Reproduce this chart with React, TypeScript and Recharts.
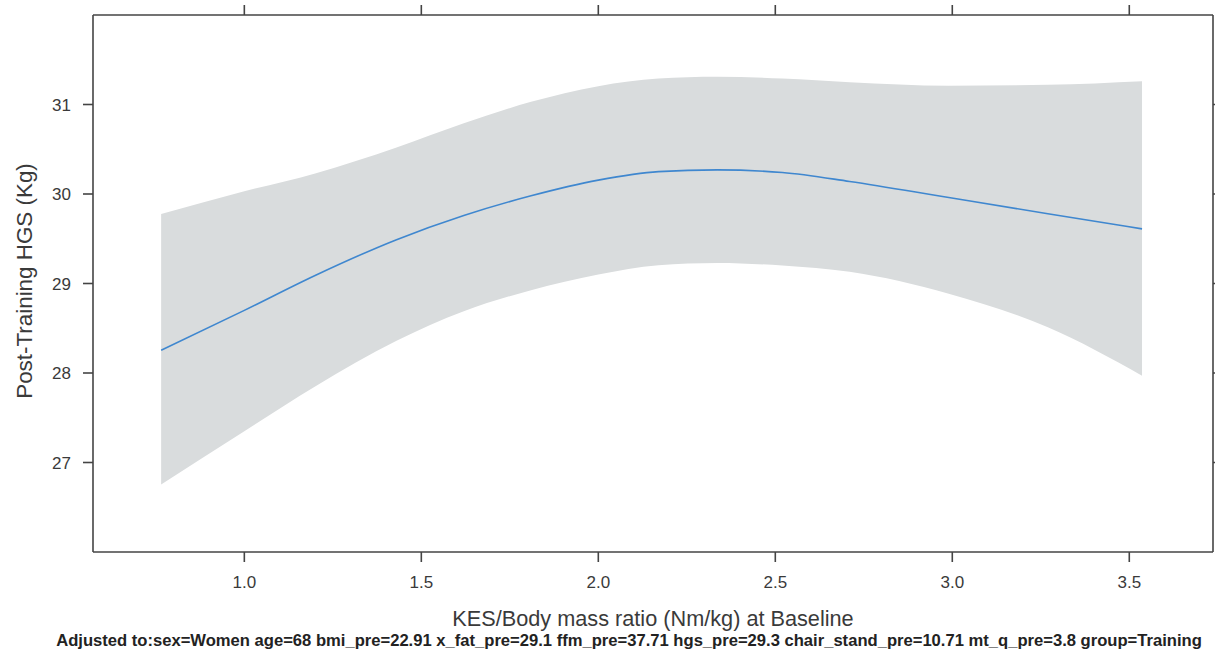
import React from 'react';
import { ComposedChart, Area, Line, XAxis, YAxis } from 'recharts';

const xValues = [0.765, 1.0, 1.2, 1.43, 1.62, 1.81, 2.0, 2.17, 2.336, 2.52, 2.71, 2.99, 3.27, 3.536];
const fitValues = [28.255, 28.7, 29.09, 29.49, 29.76, 29.98, 30.155, 30.25, 30.27, 30.24, 30.14, 29.96, 29.78, 29.61];
const upperValues = [29.777, 30.03, 30.23, 30.52, 30.79, 31.03, 31.205, 31.29, 31.31, 31.29, 31.25, 31.21, 31.22, 31.26];
const lowerValues = [26.755, 27.35, 27.85, 28.36, 28.69, 28.925, 29.1, 29.205, 29.23, 29.2, 29.13, 28.885, 28.51, 27.97];

const xTicks = [1.0, 1.5, 2.0, 2.5, 3.0, 3.5];
const yTicks = [27, 28, 29, 30, 31];
const xDomain = [0.5725, 3.7365];
const yDomain = [26, 32];

const xTitle = 'KES/Body mass ratio (Nm/kg) at Baseline';
const yTitle = 'Post-Training HGS (Kg)';
const footnote =
  'Adjusted to:sex=Women age=68 bmi_pre=22.91 x_fat_pre=29.1 ffm_pre=37.71 hgs_pre=29.3 chair_stand_pre=10.71 mt_q_pre=3.8 group=Training';

const data = xValues.map((x, i) => ({
  x,
  fit: fitValues[i],
  band: [lowerValues[i], upperValues[i]],
}));

const FONT = '"Liberation Sans", Arial, sans-serif';
const AXIS_COLOR = '#444';
const TEXT_COLOR = '#3a3a3a';

export default function App() {
  return (
    <div style={{ position: 'absolute', left: 0, top: 0, width: 1215, height: 651, background: '#fff' }}>
      <ComposedChart
        width={1215}
        height={651}
        data={data}
        margin={{ top: 0, right: 0, bottom: 0, left: 0 }}
        style={{ fontFamily: FONT }}
      >
        <XAxis
          xAxisId="bottom"
          dataKey="x"
          type="number"
          domain={xDomain}
          ticks={xTicks}
          allowDataOverflow
          orientation="bottom"
          height={99}
          tickSize={10}
          tickMargin={14}
          tickFormatter={(v: number) => v.toFixed(1)}
          tick={{ fill: TEXT_COLOR, fontSize: 17, fontFamily: FONT }}
          axisLine={{ stroke: AXIS_COLOR, strokeWidth: 1.6 }}
          tickLine={{ stroke: AXIS_COLOR, strokeWidth: 1.6 }}
          label={(props: any) => {
            const vb = props.viewBox || {};
            return (
              <text
                x={vb.x + vb.width / 2}
                y={vb.y + 73.5}
                textAnchor="middle"
                fill={TEXT_COLOR}
                fontSize={21.7}
                fontFamily={FONT}
              >
                {xTitle}
              </text>
            );
          }}
        />
        <XAxis
          xAxisId="top"
          dataKey="x"
          type="number"
          domain={xDomain}
          ticks={xTicks}
          allowDataOverflow
          orientation="top"
          height={15}
          tickSize={10}
          tickFormatter={() => ''}
          axisLine={{ stroke: AXIS_COLOR, strokeWidth: 1.6 }}
          tickLine={{ stroke: AXIS_COLOR, strokeWidth: 1.6 }}
        />
        <YAxis
          yAxisId="left"
          type="number"
          domain={yDomain}
          ticks={yTicks}
          allowDataOverflow
          orientation="left"
          width={93}
          tickSize={10}
          tickMargin={12}
          tick={{ fill: TEXT_COLOR, fontSize: 17, fontFamily: FONT }}
          axisLine={{ stroke: AXIS_COLOR, strokeWidth: 1.6 }}
          tickLine={{ stroke: AXIS_COLOR, strokeWidth: 1.6 }}
          label={(props: any) => {
            const vb = props.viewBox || {};
            const cx = 32;
            const cy = vb.y + vb.height / 2 - 2.5;
            return (
              <text
                x={cx}
                y={cy}
                transform={`rotate(-90 ${cx} ${cy})`}
                textAnchor="middle"
                fill={TEXT_COLOR}
                fontSize={22.4}
                fontFamily={FONT}
              >
                {yTitle}
              </text>
            );
          }}
        />
        <YAxis
          yAxisId="right"
          type="number"
          domain={yDomain}
          ticks={yTicks}
          allowDataOverflow
          orientation="right"
          width={2}
          tickSize={10}
          tickFormatter={() => ''}
          axisLine={{ stroke: AXIS_COLOR, strokeWidth: 1.6 }}
          tickLine={{ stroke: AXIS_COLOR, strokeWidth: 1.6 }}
        />
        <Area
          xAxisId="bottom"
          yAxisId="left"
          type="monotone"
          dataKey="band"
          stroke="none"
          fill="#d9dcdd"
          fillOpacity={1}
          isAnimationActive={false}
          activeDot={false}
        />
        <Line
          xAxisId="bottom"
          yAxisId="left"
          type="monotone"
          dataKey="fit"
          stroke="#3f87cf"
          strokeWidth={1.6}
          dot={false}
          activeDot={false}
          isAnimationActive={false}
        />
      </ComposedChart>
      <div
        style={{
          position: 'absolute',
          left: 0,
          width: 1258,
          top: 631,
          textAlign: 'center',
          fontFamily: FONT,
          fontWeight: 'bold',
          fontSize: 16.6,
          lineHeight: '19px',
          color: '#222',
          whiteSpace: 'nowrap',
        }}
      >
        {footnote}
      </div>
    </div>
  );
}
